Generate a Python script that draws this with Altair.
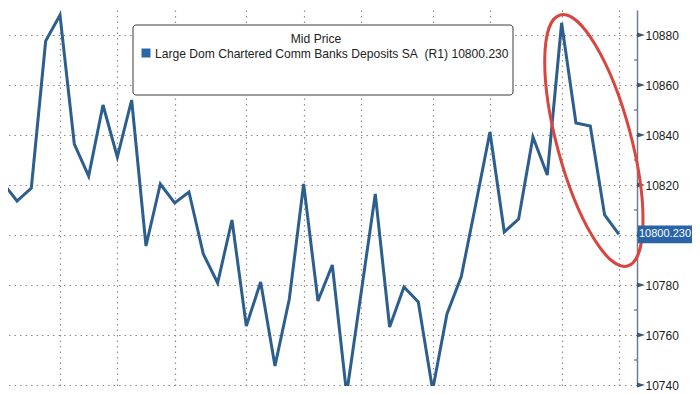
import altair as alt
import pandas as pd

# ---- data ----
values = [10821.0, 10813.6, 10818.8, 10877.6, 10888.0, 10836.4, 10823.6, 10852.0, 10831.2, 10854.0,
          10795.6, 10820.4, 10812.8, 10817.2, 10792.4, 10780.8, 10806.0, 10763.6, 10781.2, 10747.6,
          10774.4, 10820.4, 10773.6, 10788.0, 10736.4, 10776.4, 10816.4, 10763.2, 10779.2, 10773.2,
          10738.0, 10768.4, 10783.4, 10812.0, 10841.2, 10801.2, 10806.4, 10839.2, 10824.0, 10884.8,
          10844.8, 10843.6, 10808.0, 10800.23]
weeks = list(range(len(values)))
month_start_weeks = [4, 8, 12, 17, 21, 25, 30, 34, 39, 43]
y_ticks = [10740, 10760, 10780, 10800, 10820, 10840, 10860, 10880]
y_minor = [10750, 10770, 10790, 10810, 10830, 10850, 10870]
last_value = [10800.23]
last_label = ["10800.230"]
legend_title = ["Mid Price"]
series_name = ["Large Dom Chartered Comm Banks Deposits SA\u00a0 (R1) 10800.230"]
ellipse_week = [41.25]
ellipse_value = [10837.8]

# ---- styling ----
W, H = 629, 376
LINE = "#2d5f8e"
GRID = "#8c8c8c"
AXIS = "#6e7f8f"
FONT = "Liberation Sans"
ELLIPSE_PATH = ("M0,-1C0.158,-1,0.285,-0.552,0.285,0C0.285,0.552,0.158,1,0,1"
                "C-0.158,1,-0.285,0.552,-0.285,0C-0.285,-0.552,-0.158,-1,0,-1Z")
TRI_PATH = "M-1,-0.6L1,0L-1,0.6Z"
BOX_PATH = "M-1,-0.33L1,-0.33L1,0.33L-1,0.33Z"

x_enc = alt.X("week:Q",
              scale=alt.Scale(domain=[0.372, 44.26], nice=False, zero=False),
              axis=alt.Axis(values=month_start_weeks, labels=False, ticks=False, domain=False,
                            title=None, grid=True, gridDash=[1.5, 4], gridColor=GRID, gridWidth=1.2))
y_enc = alt.Y("value:Q",
              scale=alt.Scale(domain=[10739.6, 10890], nice=False, zero=False),
              axis=alt.Axis(orient="right", values=y_ticks, format="d", ticks=False, labelPadding=8,
                            labelExpr="datum.value == 10800 ? '' : datum.label",
                            labelFont=FONT, labelFontSize=12, labelColor="#1a1a1a",
                            domainColor=AXIS, domainWidth=1.5, grid=True, gridDash=[1.5, 4],
                            gridColor=GRID, gridWidth=1.2, title=None))

df = pd.DataFrame({"week": weeks, "value": values})
line = alt.Chart(df).mark_line(color=LINE, strokeWidth=3, clip=True).encode(x=x_enc, y=y_enc)

ell = alt.Chart(pd.DataFrame({"week": ellipse_week, "value": ellipse_value})).mark_point(
    shape=ELLIPSE_PATH, size=67600, angle=345.0, filled=False, color="#d8463f",
    strokeWidth=3, opacity=1).encode(x=x_enc, y=y_enc)

tri = alt.Chart(pd.DataFrame({"value": y_ticks})).mark_point(
    shape=TRI_PATH, size=64, filled=True, color="#3b5670", opacity=1).encode(
    x=alt.value(W + 4), y=y_enc)

minor = alt.Chart(pd.DataFrame({"value": y_minor})).mark_rule(color="#3b5670", strokeWidth=1).encode(
    y=y_enc, x=alt.value(W - 3), x2=alt.value(W))

box = alt.Chart(pd.DataFrame({"value": last_value, "label": last_label})).mark_point(
    shape=BOX_PATH, size=2916, filled=True, color="#2a64a8", opacity=1).encode(
    x=alt.value(W + 28), y=y_enc)
box_text = alt.Chart(pd.DataFrame({"value": last_value, "label": last_label})).mark_text(
    align="center", baseline="middle", color="white", font=FONT, fontSize=11).encode(
    x=alt.value(W + 28), y=y_enc, text="label:N")

one = pd.DataFrame({"t": legend_title, "s": series_name})
leg_box = alt.Chart(one).mark_rect(fill="white", stroke="#3a3a3a", strokeWidth=1, cornerRadius=3).encode(
    x=alt.value(125), x2=alt.value(505), y=alt.value(15), y2=alt.value(85))
leg_title = alt.Chart(one).mark_text(align="center", baseline="middle", font=FONT, fontSize=12.1,
                                     color="#222222").encode(
    x=alt.value(308), y=alt.value(29), text="t:N")
leg_sq = alt.Chart(one).mark_point(shape="square", size=81, filled=True, color="#2a66a8", opacity=1).encode(
    x=alt.value(138), y=alt.value(43))
leg_text = alt.Chart(one).mark_text(align="left", baseline="middle", font=FONT, fontSize=12.1,
                                    color="#222222").encode(
    x=alt.value(147), y=alt.value(44), text="s:N")

chart = alt.layer(line, minor, tri, ell, box, box_text, leg_box, leg_title, leg_sq, leg_text).properties(
    width=W, height=H, padding=0, background="white").configure_view(stroke=None)

chart.save("out.html", embed_options={"renderer": "svg", "actions": False})
